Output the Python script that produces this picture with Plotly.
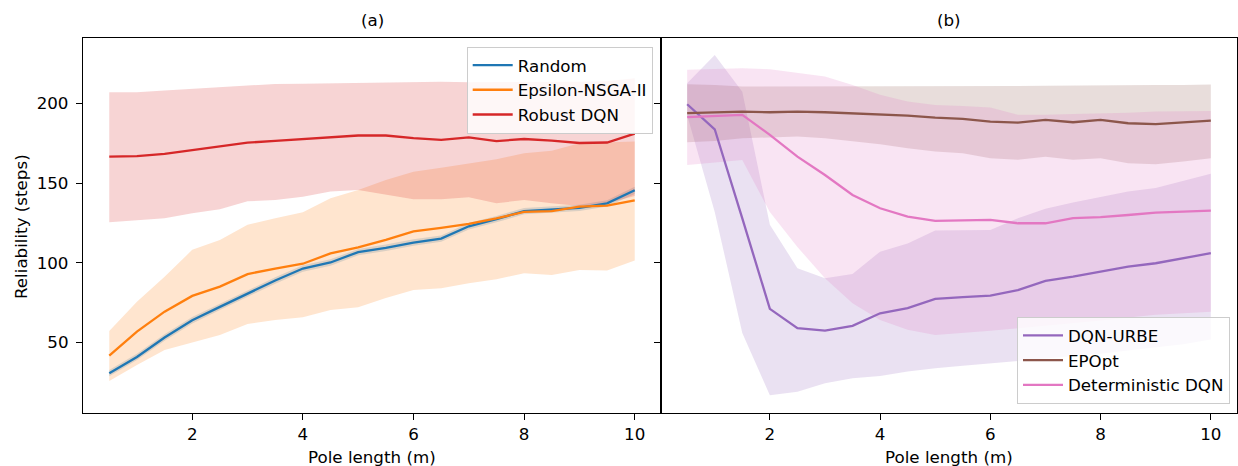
import plotly.graph_objects as go

W, H = 1238, 466

pole_length = [0.5, 1.0, 1.5, 2.0, 2.5, 3.0, 3.5, 4.0, 4.5, 5.0,
               5.5, 6.0, 6.5, 7.0, 7.5, 8.0, 8.5, 9.0, 9.5, 10.0]

# ---- panel (a) ----
random_mean = [30.8, 41.0, 53.2, 64.0, 72.4, 80.8, 89.0, 96.5, 100.3, 106.8,
               109.5, 112.8, 115.3, 123.0, 127.5, 132.5, 133.5, 134.6, 137.4, 145.6]
random_lo = [28.8, 39.0, 51.2, 62.0, 70.4, 78.8, 87.0, 94.5, 98.3, 104.8,
             107.5, 110.8, 113.3, 121.0, 125.5, 130.5, 131.5, 132.6, 135.4, 143.3]
random_hi = [32.8, 43.0, 55.2, 66.0, 74.4, 82.8, 91.0, 98.5, 102.3, 108.8,
             111.5, 114.8, 117.3, 125.0, 129.5, 134.5, 135.5, 136.6, 139.4, 147.9]

nsga_mean = [41.8, 56.9, 69.4, 79.3, 85.1, 93.0, 96.5, 99.5, 106.0, 109.8,
             114.5, 119.8, 122.0, 124.5, 128.0, 132.0, 132.5, 135.4, 136.0, 139.3]
nsga_lo = [25.9, 36.0, 45.4, 50.0, 54.8, 61.7, 64.2, 65.9, 70.5, 72.2,
           78.0, 83.0, 84.1, 87.3, 89.8, 93.5, 92.5, 95.6, 95.2, 101.5]
nsga_hi = [57.3, 75.7, 91.4, 108.2, 114.4, 123.9, 128.1, 131.8, 140.6, 145.8,
           152.0, 157.3, 159.8, 162.6, 165.1, 168.8, 170.5, 175.1, 175.5, 176.2]

robust_mean = [166.7, 167.0, 168.4, 170.9, 173.0, 175.5, 176.6, 177.8, 179.0, 180.0,
               180.0, 178.3, 177.3, 178.8, 176.5, 177.8, 176.8, 175.3, 175.6, 181.2]
robust_lo = [125.5, 126.6, 128.1, 131.2, 133.7, 138.7, 139.5, 141.6, 144.8, 145.8,
             142.7, 140.0, 140.0, 141.2, 137.5, 139.5, 137.5, 135.8, 137.5, 142.0]
robust_hi = [207.2, 207.2, 208.2, 209.2, 210.5, 211.1, 212.4, 212.5, 212.8, 213.0,
             213.5, 213.8, 213.8, 213.5, 213.5, 213.8, 213.8, 213.8, 214.0, 216.0]

# ---- panel (b) ----
urbe_mean = [199.6, 183.9, 128.0, 71.2, 59.0, 57.5, 60.5, 68.4, 71.6, 77.4,
             78.5, 79.5, 83.0, 88.7, 91.4, 94.5, 97.7, 99.8, 102.9, 106.1]
urbe_lo = [192.7, 132.0, 56.0, 17.0, 19.2, 24.5, 27.6, 29.1, 31.8, 33.9,
           35.5, 37.0, 38.5, 40.0, 41.5, 43.0, 45.0, 47.0, 49.0, 52.0]
urbe_hi = [212.8, 230.6, 207.5, 124.0, 96.7, 90.4, 93.1, 107.1, 112.2, 120.3,
           120.5, 120.7, 128.0, 134.0, 138.0, 141.5, 144.8, 147.0, 151.5, 156.0]

epopt_mean = [194.0, 194.6, 195.0, 194.6, 195.0, 194.6, 194.0, 193.3, 192.5, 191.2,
              190.4, 188.7, 188.1, 189.8, 188.3, 189.8, 187.7, 187.1, 188.3, 189.3]
epopt_lo = [175.8, 176.6, 178.3, 178.7, 179.3, 178.3, 176.6, 174.5, 172.0, 169.9,
            168.8, 165.7, 164.7, 166.7, 164.7, 165.7, 162.6, 162.0, 163.6, 165.7]
epopt_hi = [212.2, 211.7, 210.7, 210.7, 210.7, 211.0, 210.7, 210.7, 210.8, 211.0,
            211.1, 211.1, 211.1, 211.3, 211.5, 211.5, 211.7, 211.7, 211.7, 212.0]

det_mean = [191.5, 192.3, 192.9, 180.4, 166.7, 155.2, 142.7, 134.3, 129.1, 126.4,
            126.8, 127.0, 124.9, 124.9, 128.1, 128.7, 130.1, 131.6, 132.2, 132.8]
det_lo = [161.5, 163.0, 164.6, 132.0, 110.0, 90.4, 74.7, 64.2, 58.0, 54.8,
          56.0, 57.5, 59.0, 60.5, 62.2, 63.8, 65.7, 67.4, 68.4, 69.4]
det_hi = [221.2, 221.6, 222.2, 221.6, 219.1, 217.0, 211.7, 205.5, 201.3, 199.2,
          198.5, 197.5, 193.0, 193.0, 193.5, 193.8, 194.2, 195.0, 195.2, 195.4]

series_a = [("Random", random_mean, random_lo, random_hi, (31, 119, 180)),
            ("Epsilon-NSGA-II", nsga_mean, nsga_lo, nsga_hi, (255, 127, 14)),
            ("Robust DQN", robust_mean, robust_lo, robust_hi, (214, 39, 40))]
series_b = [("DQN-URBE", urbe_mean, urbe_lo, urbe_hi, (148, 103, 189)),
            ("EPOpt", epopt_mean, epopt_lo, epopt_hi, (140, 86, 75)),
            ("Deterministic DQN", det_mean, det_lo, det_hi, (227, 119, 194))]

x_ticks = [2, 4, 6, 8, 10]
y_ticks = [50, 100, 150, 200]

FONT = "DejaVu Sans"
FS = 16.7

fig = go.Figure()


def add_bands(series, xa, ya):
    for name, mean, lo, hi, c in series:
        fill = "rgba(%d,%d,%d,0.2)" % c
        fig.add_trace(go.Scatter(x=pole_length, y=lo, mode="lines",
                                 line=dict(width=0, color=fill), showlegend=False,
                                 hoverinfo="skip", xaxis=xa, yaxis=ya))
        fig.add_trace(go.Scatter(x=pole_length, y=hi, mode="lines",
                                 line=dict(width=0, color=fill), fill="tonexty",
                                 fillcolor=fill, showlegend=False,
                                 hoverinfo="skip", xaxis=xa, yaxis=ya))


def add_lines(series, xa, ya, legend):
    for name, mean, lo, hi, c in series:
        rgb = "rgb(%d,%d,%d)" % c
        fig.add_trace(go.Scatter(x=pole_length, y=mean, mode="lines", name=name,
                                 line=dict(color=rgb, width=2.3),
                                 xaxis=xa, yaxis=ya, legend=legend))


add_bands(series_a, "x", "y")
add_bands(series_b, "x2", "y2")
add_lines(series_a, "x", "y", "legend")
add_lines(series_b, "x2", "y2", "legend2")

top_px, bot_px = 38, 413
left_a, split, right_b = 83, 661, 1237
ydom = [1 - bot_px / H, 1 - top_px / H]

ax_common = dict(showline=True, linecolor="black", linewidth=1.3, mirror=True,
                 ticks="outside", ticklen=6, tickwidth=1.3, tickcolor="black",
                 showgrid=False, zeroline=False, automargin=False,
                 tickfont=dict(family=FONT, size=FS, color="black"))

leg_common = dict(bgcolor="rgba(255,255,255,0.8)", bordercolor="#cccccc",
                  borderwidth=1, traceorder="normal", itemwidth=40,
                  font=dict(family=FONT, size=FS, color="black"))

fig.update_layout(
    width=W, height=H,
    margin=dict(l=0, r=0, t=0, b=0),
    paper_bgcolor="white", plot_bgcolor="white",
    font=dict(family=FONT, size=FS, color="black"),
    xaxis=dict(domain=[left_a / W, split / W], range=[0.025, 10.475],
               tickvals=x_ticks, anchor="y", **ax_common),
    yaxis=dict(domain=ydom, range=[5.8, 241.2], tickvals=y_ticks, anchor="x",
               ticklabelstandoff=4, **ax_common),
    xaxis2=dict(domain=[split / W, right_b / W], range=[0.025, 10.475],
                tickvals=x_ticks, anchor="y2", **ax_common),
    yaxis2=dict(domain=ydom, range=[5.8, 241.2], tickvals=y_ticks, anchor="x2",
                showticklabels=False, **ax_common),
    legend=dict(x=652.7 / W, xanchor="right", y=1 - 46.7 / H, yanchor="top",
                **leg_common),
    legend2=dict(x=1230 / W, xanchor="right", y=1 - 404 / H, yanchor="bottom",
                 **leg_common),
    showlegend=True,
)

ann = dict(xref="paper", yref="paper", showarrow=False,
           font=dict(family=FONT, size=FS, color="black"))
fig.add_annotation(text="(a)", x=(left_a + split) / 2 / W, y=1 - 20 / H,
                   xanchor="center", yanchor="middle", **ann)
fig.add_annotation(text="(b)", x=(split + right_b) / 2 / W, y=1 - 20 / H,
                   xanchor="center", yanchor="middle", **ann)
fig.add_annotation(text="Pole length (m)", x=(left_a + split) / 2 / W, y=1 - 457 / H,
                   xanchor="center", yanchor="middle", **ann)
fig.add_annotation(text="Pole length (m)", x=(split + right_b) / 2 / W, y=1 - 457 / H,
                   xanchor="center", yanchor="middle", **ann)
fig.add_annotation(text="Reliability (steps)", x=21 / W, y=1 - 227 / H, textangle=-90,
                   xanchor="center", yanchor="middle", **ann)

fig.write_html("out.html")
